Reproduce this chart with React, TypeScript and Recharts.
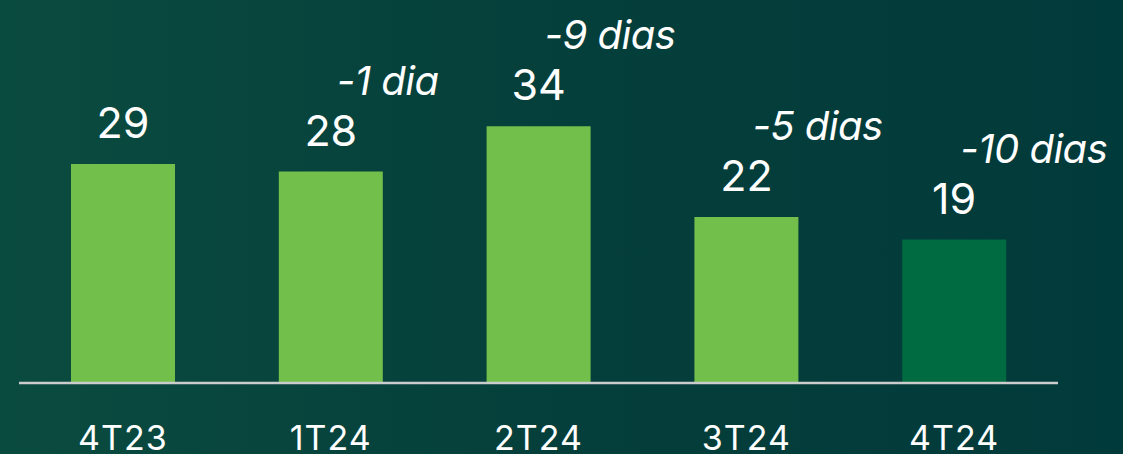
import React from 'react';
import { BarChart, Bar, XAxis, YAxis, Cell, LabelList } from 'recharts';

const quarters = ['4T23', '1T24', '2T24', '3T24', '4T24'];
const days = [29, 28, 34, 22, 19];
const changes = ['', '-1 dia', '-9 dias', '-5 dias', '-10 dias'];

const data = quarters.map((q, i) => ({ quarter: q, days: days[i], change: changes[i] }));

const LIGHT = '#72bf4c';
const DARK = '#006a40';
const FONT = 'Inter, "Open Sans", sans-serif';

const ChangeLabel = (props: any) => {
  const { x, y, width, index } = props;
  const text = changes[index];
  if (!text) return null;
  return (
    <text
      x={x + width / 2 + 6}
      y={y - 77}
      fill="#fff"
      fontSize={40}
      fontStyle="italic"
      fontFamily={FONT}
      textAnchor="start"
      letterSpacing={-0.5}
    >
      {text}
    </text>
  );
};

export default function App() {
  return (
    <div
      style={{
        position: 'fixed',
        left: 0,
        top: 0,
        width: 1123,
        height: 454,
        background: 'linear-gradient(90deg, #0a4b3f 0%, #053f3b 50%, #013a3a 100%)',
        overflow: 'hidden',
      }}
    >
      <BarChart
        width={1123}
        height={454}
        data={data}
        margin={{ top: 81, right: 65, bottom: 0, left: 19 }}
        barSize={104}
      >
        <XAxis
          dataKey="quarter"
          height={71}
          axisLine={{ stroke: '#cccccc', strokeWidth: 2.5 }}
          tickLine={false}
          tickSize={0}
          tickMargin={43}
          tick={{ fill: '#fff', fontSize: 34, fontFamily: FONT, letterSpacing: 1 }}
        />
        <YAxis hide domain={[0, 40]} />
        <Bar dataKey="days" isAnimationActive={false}>
          {data.map((d, i) => (
            <Cell key={d.quarter} fill={i === data.length - 1 ? DARK : LIGHT} />
          ))}
          <LabelList
            dataKey="days"
            position="top"
            offset={26}
            fill="#fff"
            fontSize={43}
            fontFamily={FONT}
          />
          <LabelList dataKey="change" content={ChangeLabel} />
        </Bar>
      </BarChart>
    </div>
  );
}
